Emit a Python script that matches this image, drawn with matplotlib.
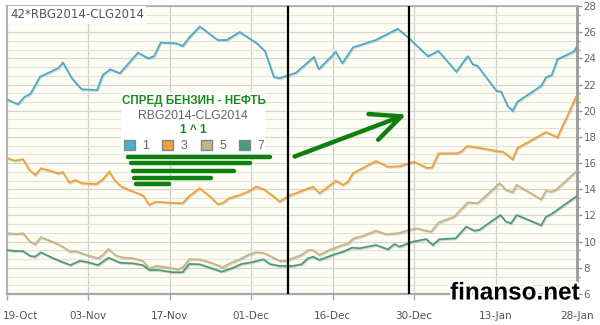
import matplotlib
matplotlib.use("Agg")
import matplotlib.pyplot as plt
import matplotlib.patheffects as pe
import matplotlib.transforms as mtransforms
from matplotlib.lines import Line2D
from matplotlib.patches import FancyArrowPatch, Patch, Rectangle
from matplotlib.ticker import MultipleLocator

W, H = 600, 325

# spread series: (trading day index, value)
SERIES_1 = [(0, 20.87), (1.4, 20.49), (2.2, 21.07), (2.9, 21.28), (4.1, 22.60), (6.3, 23.24),
            (6.9, 23.67), (8.0, 22.48), (9.2, 21.64), (11.1, 21.58), (11.8, 22.73), (12.7, 23.16),
            (13.9, 22.86), (16.1, 24.43), (17.4, 24.0), (18.1, 24.18), (18.9, 25.2), (20.8, 25.15),
            (21.6, 24.94), (22.5, 25.65), (23.7, 26.43), (25.9, 25.4), (27.0, 25.4), (28.6, 26.01),
            (30.7, 25.15), (31.7, 24.56), (32.8, 22.58), (33.5, 22.48), (35.5, 22.9), (37.7, 24.1),
            (38.3, 23.17), (40.4, 24.49), (41.2, 23.62), (42.5, 24.83), (45.3, 25.4), (48.0, 26.26),
            (49.3, 25.59), (51.7, 24.16), (53.0, 24.56), (55.2, 22.98), (56.6, 24.18), (57.2, 23.55),
            (57.8, 23.42), (60.1, 21.53), (60.7, 21.45), (61.5, 20.36), (62.1, 20.0), (62.7, 20.69),
            (65.6, 21.89), (66.2, 22.55), (66.9, 22.73), (67.6, 23.93), (69.6, 24.51), (70, 24.89)]

SERIES_3 = [(0, 16.37), (1.0, 16.19), (2.0, 16.29), (2.8, 15.47), (3.5, 15.09), (4.2, 15.6),
            (5.3, 15.42), (6.3, 15.22), (6.9, 15.3), (7.7, 14.5), (8.4, 14.71), (9.2, 14.46),
            (11.0, 14.4), (11.8, 14.76), (12.6, 15.34), (13.3, 14.65), (14.1, 14.2), (15.3, 13.87),
            (16.3, 13.64), (16.8, 13.49), (17.5, 12.8), (18.3, 13.05), (20.0, 12.97), (21.6, 12.93),
            (22.4, 13.48), (23.7, 14.07), (24.9, 13.48), (25.9, 12.87), (26.5, 12.93), (27.3, 13.31),
            (28.6, 13.56), (29.6, 13.81), (30.6, 14.2), (31.5, 14.02), (32.7, 13.48), (33.5, 13.05),
            (34.7, 13.52), (37.6, 14.2), (38.4, 13.69), (40.4, 14.65), (41.3, 14.33), (41.9, 14.58),
            (42.5, 15.22), (45.3, 16.16), (46.8, 15.72), (48.2, 15.75), (50.0, 16.1), (51.6, 15.62),
            (52.2, 15.66), (53.0, 16.73), (55.2, 16.75), (55.8, 16.87), (56.5, 17.3), (57.9, 17.18),
            (60.5, 16.88), (60.9, 16.88), (62.1, 16.29), (62.7, 17.15), (66.2, 18.37), (67.6, 17.97),
            (70, 21.2)]

SERIES_5 = [(0, 10.64), (1.2, 10.58), (2.0, 10.64), (2.9, 9.99), (3.5, 9.8), (4.2, 10.33),
            (5.3, 10.07), (6.1, 9.87), (6.9, 9.61), (7.8, 9.23), (8.4, 9.28), (9.2, 9.11),
            (10.2, 8.9), (11.2, 8.73), (11.8, 8.98), (12.5, 9.44), (13.3, 8.98), (14.1, 8.8),
            (15.5, 8.73), (16.7, 8.54), (17.5, 7.96), (18.4, 8.14), (19.2, 8.08), (21.0, 7.89),
            (21.6, 8.01), (22.4, 8.65), (23.7, 8.65), (25.3, 8.34), (26.5, 8.04), (27.4, 8.34),
            (28.6, 8.65), (29.8, 9.03), (30.6, 9.18), (31.5, 9.15), (32.5, 8.85), (33.5, 8.52),
            (34.3, 8.54), (35.1, 8.73), (36.2, 8.98), (37.0, 9.36), (37.6, 9.36), (38.4, 8.98),
            (39.6, 9.36), (40.9, 9.67), (41.9, 9.87), (42.6, 10.25), (43.7, 10.43), (45.3, 10.83),
            (46.6, 10.56), (48.0, 10.64), (49.4, 10.89), (50.3, 11.02), (51.1, 10.89), (52.1, 10.76),
            (53.0, 11.45), (54.9, 11.9), (56.6, 13.0), (57.8, 12.93), (60.5, 14.46), (61.3, 13.94),
            (62.1, 13.77), (62.6, 14.33), (65.6, 13.23), (66.2, 13.89), (66.8, 13.81), (67.4, 13.94),
            (70, 15.42)]

SERIES_7 = [(0, 9.36), (1.0, 9.28), (2.0, 9.28), (2.9, 8.9), (3.5, 8.85), (4.2, 9.18),
            (5.3, 8.85), (6.5, 8.52), (7.8, 8.21), (9.0, 8.54), (10.0, 8.42), (11.2, 8.21),
            (12.5, 8.77), (13.9, 8.39), (15.5, 8.34), (16.7, 8.21), (17.5, 7.83), (18.6, 7.83),
            (20.4, 7.66), (21.6, 7.66), (22.4, 8.29), (23.7, 8.27), (26.4, 7.7), (27.8, 8.01),
            (28.8, 8.29), (30.2, 8.44), (31.5, 8.65), (32.3, 8.29), (33.5, 8.14), (35.1, 8.14),
            (36.2, 8.27), (37.0, 8.73), (37.6, 8.85), (38.4, 8.6), (40.0, 8.98), (41.3, 9.23),
            (42.4, 9.54), (43.3, 9.49), (45.3, 9.74), (46.8, 9.41), (47.6, 9.82), (48.2, 9.61),
            (49.8, 9.99), (51.5, 10.2), (52.3, 9.74), (53.1, 10.18), (55.1, 10.25), (56.4, 11.14),
            (57.4, 10.83), (58.0, 10.89), (60.6, 12.03), (61.3, 11.52), (61.9, 11.4), (62.6, 12.03),
            (65.6, 11.25), (66.2, 11.9), (66.8, 12.09), (67.4, 12.34), (70, 13.49)]

SERIES = [("1", SERIES_1, "#4aacc5"), ("3", SERIES_3, "#f2a033"),
          ("5", SERIES_5, "#c6b483"), ("7", SERIES_7, "#4f9a78")]

TICK_POS = [0, 10, 20, 30, 40, 50, 60, 70]
TICK_LABELS = ["19-Oct", "03-Nov", "17-Nov", "01-Dec", "16-Dec", "30-Dec", "13-Jan", "28-Jan"]
MARKERS = [34.5, 49.4]  # hand-drawn vertical lines


def fpx(x, y):
    return x / W, 1 - y / H


fig = plt.figure(figsize=(W / 100, H / 100), dpi=100)
fig.patch.set_facecolor("white")
left, top = fpx(6.7, 6)
right, bottom = fpx(577, 294)
ax = fig.add_axes([left, bottom, right - left, top - bottom])
ax.set_facecolor("#fdfdf4")

shadow = [pe.SimpleLineShadow(offset=(0.6, -0.8), shadow_color="#999999", alpha=0.35), pe.Normal()]
for name, pts, color in SERIES:
    xs = [p[0] for p in pts]
    ys = [p[1] for p in pts]
    ax.plot(xs, ys, color=color, lw=1.3, zorder=3, path_effects=shadow, solid_joinstyle="miter")

for m in MARKERS:
    ax.axvline(m, color="black", lw=1.6, zorder=4)

ax.set_xlim(0, 70)
ax.set_ylim(6, 28)
ax.set_xticks(TICK_POS)
ax.set_xticklabels(TICK_LABELS)
ax.yaxis.tick_right()
ax.set_yticks(range(6, 29, 2))
ax.yaxis.set_minor_locator(MultipleLocator(2 / 3))
ax.grid(axis="y", which="minor", color="#e2e2dc", lw=0.8)
ax.grid(axis="y", which="major", color="#d6d6d0", lw=0.9)
ax.grid(axis="x", which="major", color="#d0d0d0", lw=0.9)
ax.set_axisbelow(True)
ax.tick_params(axis="x", length=4, width=1, color="#aaaaaa", pad=8, labelsize=7.5, labelcolor="#555555")
ax.tick_params(axis="y", which="major", length=3.5, width=1, color="#999999", pad=1.2, labelsize=7.4,
               labelcolor="#666666")
ax.tick_params(axis="y", which="minor", length=2.5, width=1, color="#999999")
for side in ["left", "top"]:
    ax.spines[side].set_color("#aaaaaa")
    ax.spines[side].set_linewidth(1.2)
ax.spines["right"].set_color("#999999")
ax.spines["right"].set_linewidth(2)
ax.spines["bottom"].set_color("#aaaaaa")
ax.spines["bottom"].set_linewidth(1.6)

# keep the first date label inside the figure
first = ax.get_xticklabels()[0]
first.set_ha("left")
first.set_transform(first.get_transform() + mtransforms.ScaledTranslation(-4 / 100, 0, fig.dpi_scale_trans))

# title tag
fig.text(*fpx(10, 15), "42*RBG2014-CLG2014", fontsize=8.5, color="#555555", va="center", ha="left",
         bbox=dict(facecolor="white", edgecolor="none", pad=1.5))

# legend block
box_x0, box_y0 = fpx(121, 154)
box_x1, box_y1 = fpx(265, 92)
fig.add_artist(Rectangle((box_x0, box_y0), box_x1 - box_x0, box_y1 - box_y0, transform=fig.transFigure,
                         facecolor="white", edgecolor="none", zorder=5))
fig.text(*fpx(194, 101), "СПРЕД БЕНЗИН - НЕФТЬ", family="Liberation Sans", fontweight="bold",
         fontsize=8.4, color="#1a8a1a", ha="center", va="center", zorder=6)
fig.text(*fpx(193, 116), "RBG2014-CLG2014", family="Liberation Sans", fontsize=8.8,
         color="#666666", ha="center", va="center", zorder=6)
fig.text(*fpx(193, 130), "1 ^ 1", family="Liberation Sans", fontweight="bold",
         fontsize=8.6, color="#1a8a1a", ha="center", va="center", zorder=6)
handles = [Patch(facecolor=c, edgecolor="#7a8a8a", label=n) for n, _, c in SERIES]
leg = fig.legend(handles=handles, loc="center", bbox_to_anchor=fpx(194, 146), ncol=4, frameon=False,
                 handlelength=0.9, handleheight=0.9, handletextpad=0.6, columnspacing=1.1,
                 prop={"family": "Liberation Sans", "size": 8.8})
for t in leg.get_texts():
    t.set_color("#666666")
leg.set_zorder(6)

# hand-drawn marks
pen = "#0d7f0d"
for x0, x1, y in [(128, 270, 156.7), (131, 250, 163.3), (133, 234, 170.7), (134, 211, 177.7), (136, 169, 184.3)]:
    fig.add_artist(Line2D([x0 / W, x1 / W], [1 - y / H, 1 - y / H], transform=fig.transFigure,
                          color=pen, lw=3.2, solid_capstyle="round", zorder=7))
fig.add_artist(FancyArrowPatch(fpx(292, 157.5), fpx(409, 113.5), transform=fig.transFigure,
                               arrowstyle="->,head_length=1.2,head_width=0.55", mutation_scale=18,
                               color=pen, lw=3.2, capstyle="round", zorder=7))

fig.text(*fpx(515, 293), "finanso.net", family="Liberation Sans", fontweight="bold", fontsize=17.5,
         color="black", ha="center", va="center", zorder=8,
         path_effects=[pe.withStroke(linewidth=3, foreground="white")])

fig.savefig("out.png", dpi=100)
